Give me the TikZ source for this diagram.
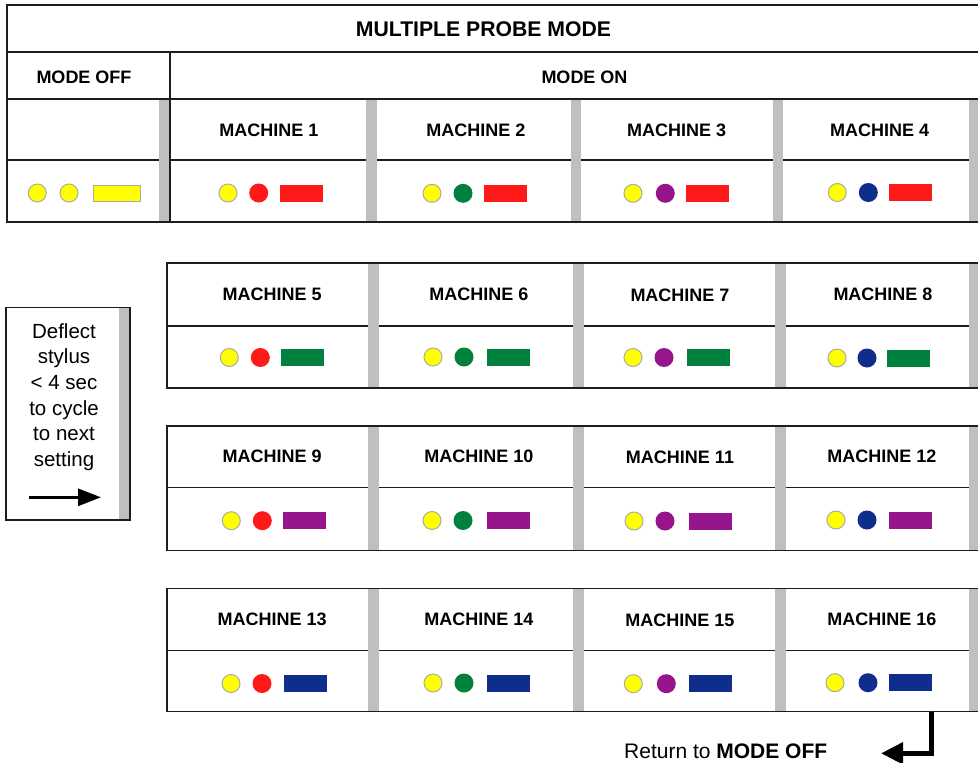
\documentclass[tikz,border=0pt]{standalone}
\usepackage{fontspec}
\setmainfont{Liberation Sans}
\usetikzlibrary{arrows.meta}
\definecolor{barg}{RGB}{191,191,191}
\definecolor{ledgrey}{RGB}{170,170,170}
\definecolor{ledyellow}{RGB}{255,255,0}
\definecolor{ledred}{RGB}{255,25,25}
\definecolor{ledgreen}{RGB}{0,130,62}
\definecolor{ledpurple}{RGB}{150,20,140}
\definecolor{ledblue}{RGB}{15,45,140}
\definecolor{linec}{RGB}{30,30,30}
\tikzset{
  gridline/.style={line width=1.3pt, draw=linec},
  greybar/.style={fill=barg, draw=none},
  lbl/.style={font=\bfseries\fontsize{18}{20}\selectfont, inner sep=0pt},
  ttl/.style={font=\bfseries\fontsize{21.2}{24}\selectfont, inner sep=0pt},
  ledy/.style={circle, fill=ledyellow, draw=ledgrey, line width=1pt, minimum size=18pt, inner sep=0pt},
  led/.style={circle, fill=#1, draw=none, minimum size=19pt, inner sep=0pt},
  blk/.style={rectangle, fill=#1, draw=none, minimum width=43pt, minimum height=17pt, inner sep=0pt},
  blky/.style={rectangle, fill=ledyellow, draw=ledgrey, line width=1pt, minimum width=47pt, minimum height=16pt, inner sep=0pt},
  thickarrow/.style={line width=3pt, -{Triangle[length=23pt,width=17pt]}},
  retarrow/.style={line width=5pt, -{Triangle[length=22pt,width=21pt]}}
}
\begin{document}
\begin{tikzpicture}[x=1pt,y=-1pt]
\useasboundingbox (0,0) rectangle (978,763);
\fill[white] (0,0) rectangle (978,763);

% ---------- top table ----------
\draw[gridline] (7,160) -- (978,160);
\foreach \a/\b in {159/170,366/376.7,570.5/580.7,772.7/783.3,969/978}
  \fill[greybar] (\a,99) rectangle (\b,222);
\draw[gridline] (978,5) -- (7,5) -- (7,222) -- (978,222);
\draw[gridline] (7,52) -- (978,52);
\draw[gridline] (7,99) -- (978,99);
\draw[gridline] (170,52) -- (170,222);

\node[ttl] (title) at (483.5,29.7) {MULTIPLE PROBE MODE};
\node[lbl] (modeoff) at (84,77) {MODE OFF};
\node[lbl] (modeon) at (584.5,77) {MODE ON};

\node[ledy] (off1) at (37.3,193) {};
\node[ledy] (off2) at (69,193) {};
\node[blky] (offr) at (116.7,193) {};

% ---------- lower rows ----------
\foreach \t/\m/\b in {263/326/388, 426/487.5/550.5, 588.5/650.5/711.5}{
  \draw[gridline] (167,\m) -- (978,\m);
  \foreach \a/\c in {368/379,573/583.5,775/786,969/978}
    \fill[greybar] (\a,\t) rectangle (\c,\b);
  \draw[gridline] (978,\t) -- (167,\t) -- (167,\b) -- (978,\b);
}

% ---------- machines ----------
\foreach \n/\lx/\ly/\yx/\cx/\cc/\rx/\vy/\bc in {
  1/269/130.3/228/258.7/ledred/301.7/193/ledred,
  2/475.8/130.3/432/463/ledgreen/505.5/193.3/ledred,
  3/676.7/130.3/633/665.3/ledpurple/707.3/193.3/ledred,
  4/879.7/130.3/837.3/868.3/ledblue/910/192.5/ledred,
  5/272.2/294.5/229.3/260.3/ledred/302.7/357.5/ledgreen,
  6/479/294.5/433/464/ledgreen/508/357/ledgreen,
  7/680/295.5/633/664/ledpurple/708/357.5/ledgreen,
  8/883/294.5/837/867/ledblue/908.5/358/ledgreen,
  9/272.2/456.7/231.3/262.3/ledred/304.8/520.7/ledpurple,
  10/479/456.7/432/463/ledgreen/508/520.5/ledpurple,
  11/680/457.5/634/665/ledpurple/710/521/ledpurple,
  12/882/456.7/836/867/ledblue/910/520/ledpurple,
  13/272.2/619.5/231/262/ledred/305/683.5/ledblue,
  14/479/619.5/433/464/ledgreen/508/683/ledblue,
  15/680/620.5/633.3/666.3/ledpurple/710.3/683.7/ledblue,
  16/882/619.3/835/868/ledblue/910.8/682.7/ledblue}{
  \node[lbl] (m\n) at (\lx,\ly) {MACHINE \n};
  \node[ledy] (y\n) at (\yx,\vy) {};
  \node[led=\cc] (c\n) at (\cx,\vy) {};
  \node[blk=\bc] (r\n) at (\rx,\vy) {};
}

% ---------- deflect box ----------
\fill[greybar] (119,307.3) rectangle (130,520);
\draw[gridline] (6,307.3) rectangle (130,520);
\node[anchor=north, align=center, inner sep=0pt,
      font=\fontsize{20.5}{25.6}\selectfont] (deflect) at (64,323.3)
  {Deflect\\stylus\\< 4 sec\\to cycle\\to next\\setting};
\coordinate (da0) at (29,497.3);
\coordinate (da1) at (101,497.3);
\draw[thickarrow] (da0) -- (da1);

% ---------- return arrow ----------
\coordinate (rt0) at (931.7,711.5);
\coordinate (rt1) at (881,753.3);
\draw[retarrow] (rt0) |- (rt1);
\node[anchor=base west, inner sep=0pt, font=\fontsize{21}{24}\selectfont] (ret) at (624,758.5)
  {Return to \textbf{MODE OFF}};
\end{tikzpicture}
\end{document}
